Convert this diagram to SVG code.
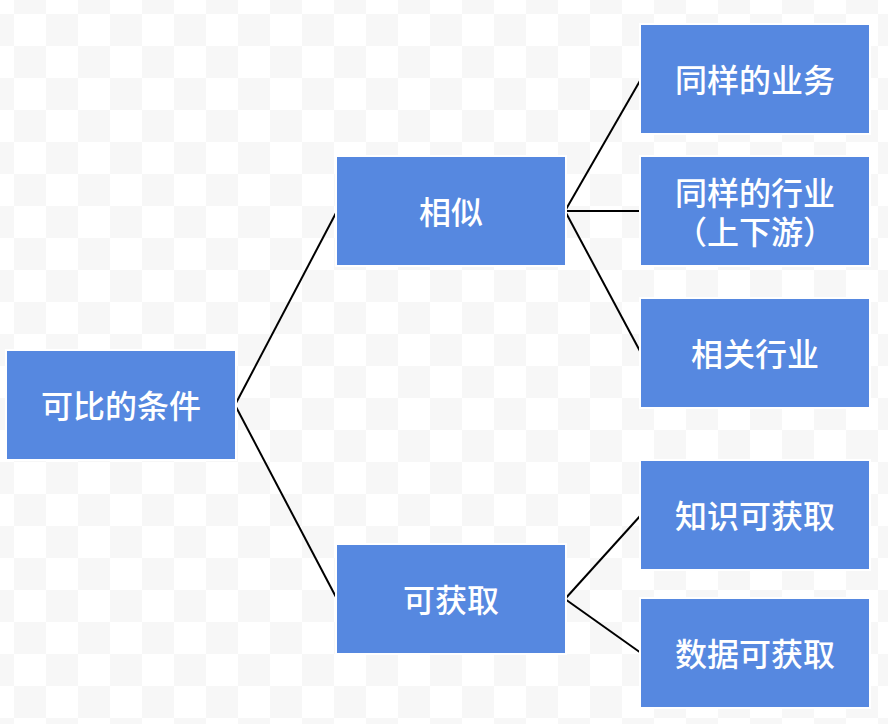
<svg xmlns="http://www.w3.org/2000/svg" width="888" height="724" viewBox="0 0 888 724">
  <defs>
    <pattern id="checker" patternUnits="userSpaceOnUse" x="-18" y="-18" width="64" height="64">
      <rect x="0" y="0" width="64" height="64" fill="#ffffff"/>
      <rect x="32" y="0" width="32" height="32" fill="#f7f7f7"/>
      <rect x="0" y="32" width="32" height="32" fill="#f7f7f7"/>
    </pattern>
  </defs>
  <style>
    .box { fill: #5688E0; stroke: #ffffff; stroke-width: 4; paint-order: stroke; }
    .label { fill: #ffffff; font-family: "Noto Sans CJK SC", "Noto Sans", sans-serif; font-size: 32px; font-weight: 500; text-anchor: middle; dominant-baseline: central; }
    .edge { stroke: #000000; stroke-width: 2; fill: none; }
  </style>
  <rect x="0" y="0" width="888" height="724" fill="url(#checker)"/>
  <g id="connectors">
    <line class="edge" x1="235" y1="405" x2="337" y2="211"/>
    <line class="edge" x1="235" y1="405" x2="337" y2="599"/>
    <line class="edge" x1="565" y1="211" x2="641" y2="79"/>
    <line class="edge" x1="565" y1="211" x2="641" y2="211"/>
    <line class="edge" x1="565" y1="211" x2="641" y2="353"/>
    <line class="edge" x1="565" y1="599" x2="641" y2="515"/>
    <line class="edge" x1="565" y1="599" x2="641" y2="653"/>
  </g>
  <g id="root">
    <rect class="box" x="7" y="351" width="228" height="108"/>
    <text class="label" x="121" y="404">可比的条件</text>
  </g>
  <g id="similar">
    <rect class="box" x="337" y="157" width="228" height="108"/>
    <text class="label" x="451" y="210">相似</text>
  </g>
  <g id="obtainable">
    <rect class="box" x="337" y="545" width="228" height="108"/>
    <text class="label" x="451" y="598">可获取</text>
  </g>
  <g id="same-business">
    <rect class="box" x="641" y="25" width="228" height="108"/>
    <text class="label" x="755" y="78">同样的业务</text>
  </g>
  <g id="same-industry">
    <rect class="box" x="641" y="157" width="228" height="108"/>
    <text class="label" x="755" y="191"><tspan x="755" y="191">同样的行业</tspan><tspan x="755" y="230">（上下游）</tspan></text>
  </g>
  <g id="related-industry">
    <rect class="box" x="641" y="299" width="228" height="108"/>
    <text class="label" x="755" y="352">相关行业</text>
  </g>
  <g id="knowledge">
    <rect class="box" x="641" y="461" width="228" height="108"/>
    <text class="label" x="755" y="514">知识可获取</text>
  </g>
  <g id="data">
    <rect class="box" x="641" y="599" width="228" height="108"/>
    <text class="label" x="755" y="652">数据可获取</text>
  </g>
</svg>
